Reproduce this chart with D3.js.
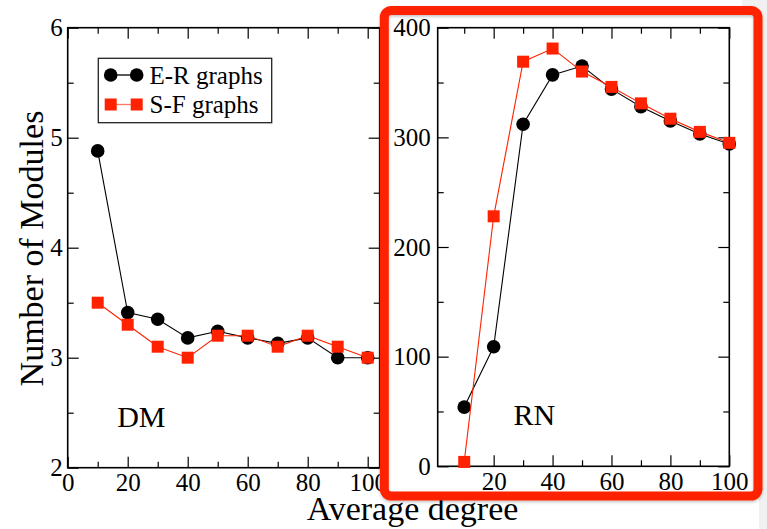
<!DOCTYPE html>
<html>
<head>
<meta charset="utf-8">
<script src="https://cdn.jsdelivr.net/npm/d3@7/dist/d3.min.js"></script>
<style>
  html, body { margin: 0; padding: 0; background: #fff; }
  svg { display: block; }
  svg text { font-family: "Liberation Serif", "Tinos", "Nimbus Roman", "Times New Roman", "DejaVu Serif", serif !important; fill: #000; }
</style>
</head>
<body>
<svg id="chart" width="767" height="529"></svg>
<script>
// Average degree values shared by both panels
const degrees = [10, 20, 30, 40, 50, 60, 70, 80, 90, 100];

// DM panel: number of modules
const dmER = [4.88, 3.41, 3.35, 3.18, 3.24, 3.18, 3.13, 3.18, 3.0, 3.0];
const dmSF = [3.5, 3.3, 3.1, 3.0, 3.2, 3.2, 3.1, 3.2, 3.1, 3.0];

// RN panel: number of modules
const rnER = [54, 109, 312, 357, 365, 344, 328, 315, 303, 294];
const rnSF = [4, 228, 369, 381, 360, 346, 331, 317, 305, 295];

// Tick values
const dmXTicks = [0, 20, 40, 60, 80, 100];
const dmXMinor = [10, 30, 50, 70, 90];
const dmYTicks = [2, 3, 4, 5, 6];
const dmYMinor = [2.5, 3.5, 4.5, 5.5];
const rnXTicks = [20, 40, 60, 80, 100];
const rnXMinor = [10, 30, 50, 70, 90];
const rnYTicks = [0, 100, 200, 300, 400];
const rnYMinor = [50, 150, 250, 350];

const seriesNames = ["E-R graphs", "S-F graphs"];
const panelNames = ["DM", "RN"];

const RED = "#ff2200";
const SERIF = "'Liberation Serif', 'Tinos', 'Nimbus Roman', 'Times New Roman', 'DejaVu Serif', serif";
const svg = d3.select("#chart");

// light strip at the right edge of the page
svg.append("rect").attr("x", 759).attr("y", 0).attr("width", 8).attr("height", 529).attr("fill", "#f1f1f1");
svg.append("rect").attr("x", 742).attr("y", 0).attr("width", 25).attr("height", 8).attr("fill", "#f1f1f1");

function panel(cfg) {
  const g = svg.append("g");
  const x = d3.scaleLinear().domain(cfg.xDomain).range([cfg.left, cfg.right]);
  const y = d3.scaleLinear().domain(cfg.yDomain).range([cfg.bottom, cfg.top]);
  const W = cfg.right - cfg.left, H = cfg.bottom - cfg.top;

  const major = 11, minor = 6;
  // bottom axis with labels
  g.append("g").attr("transform", `translate(0,${cfg.bottom})`)
    .call(d3.axisBottom(x).tickValues(cfg.xTicks).tickSize(-major).tickPadding(6).tickFormat(d3.format("d")));
  g.append("g").attr("transform", `translate(0,${cfg.bottom})`)
    .call(d3.axisBottom(x).tickValues(cfg.xMinor).tickSize(-minor).tickFormat(""));
  // top axis ticks
  g.append("g").attr("transform", `translate(0,${cfg.top})`)
    .call(d3.axisTop(x).tickValues(cfg.xTicks).tickSize(-major).tickFormat(""));
  g.append("g").attr("transform", `translate(0,${cfg.top})`)
    .call(d3.axisTop(x).tickValues(cfg.xMinor).tickSize(-minor).tickFormat(""));
  // left axis with labels
  g.append("g").attr("transform", `translate(${cfg.left},0)`)
    .call(d3.axisLeft(y).tickValues(cfg.yTicks).tickSize(-major).tickPadding(cfg.yPad).tickFormat(d3.format("d")));
  g.append("g").attr("transform", `translate(${cfg.left},0)`)
    .call(d3.axisLeft(y).tickValues(cfg.yMinor).tickSize(-minor).tickFormat(""));
  // right axis ticks
  g.append("g").attr("transform", `translate(${cfg.right},0)`)
    .call(d3.axisRight(y).tickValues(cfg.yTicks).tickSize(-major).tickFormat(""));
  g.append("g").attr("transform", `translate(${cfg.right},0)`)
    .call(d3.axisRight(y).tickValues(cfg.yMinor).tickSize(-minor).tickFormat(""));

  g.selectAll(".domain").remove();
  g.selectAll("g").attr("font-family", SERIF);
  g.selectAll(".tick line").attr("stroke", "#000").attr("stroke-width", 1.2);
  g.selectAll(".tick text").attr("font-size", 25).attr("fill", "#000");

  // frame
  g.append("rect").attr("x", cfg.left).attr("y", cfg.top).attr("width", W).attr("height", H)
    .attr("fill", "none").attr("stroke", "#000").attr("stroke-width", 1.6);

  const line = d3.line().x((d, i) => x(degrees[i])).y(d => y(d));

  // E-R series
  g.append("path").datum(cfg.er).attr("d", line).attr("fill", "none").attr("stroke", "#000").attr("stroke-width", 1.1);
  g.selectAll(".er").data(cfg.er).enter().append("circle")
    .attr("cx", (d, i) => x(degrees[i])).attr("cy", d => y(d)).attr("r", 6.8).attr("fill", "#000");

  // S-F series
  g.append("path").datum(cfg.sf).attr("d", line).attr("fill", "none").attr("stroke", RED).attr("stroke-width", 1.1);
  const s = 12;
  g.selectAll(".sf").data(cfg.sf).enter().append("rect")
    .attr("x", (d, i) => x(degrees[i]) - s / 2).attr("y", d => y(d) - s / 2)
    .attr("width", s).attr("height", s).attr("fill", RED);

  // panel name
  g.append("text").attr("x", x(cfg.nameAt[0])).attr("y", y(cfg.nameAt[1]))
    .attr("font-family", SERIF).attr("font-size", 30).text(cfg.name);

  return { x, y };
}

// DM panel
panel({
  left: 67.7, right: 379.7, top: 27.7, bottom: 467.7,
  xDomain: [0, 104], yDomain: [2, 6],
  xTicks: dmXTicks, xMinor: dmXMinor, yTicks: dmYTicks, yMinor: dmYMinor,
  yPad: 5,
  er: dmER, sf: dmSF, name: panelNames[0], nameAt: [16.5, 2.37]
});

// RN panel
panel({
  left: 437.7, right: 729.3, top: 27.7, bottom: 466.3,
  xDomain: [1, 100], yDomain: [0, 400],
  xTicks: rnXTicks, xMinor: rnXMinor, yTicks: rnYTicks, yMinor: rnYMinor,
  yPad: 7,
  er: rnER, sf: rnSF, name: panelNames[1], nameAt: [26.7, 37.6]
});

// legend
const lg = svg.append("g").attr("font-family", SERIF);
lg.append("rect").attr("x", 98.3).attr("y", 58.3).attr("width", 173.4).attr("height", 64.4)
  .attr("fill", "#fff").attr("stroke", "#222").attr("stroke-width", 1.3);
const rows = [
  { name: seriesNames[0], color: "#000", shape: "circle", cy: 75 },
  { name: seriesNames[1], color: RED, shape: "square", cy: 104.5 }
];
rows.forEach(r => {
  lg.append("line").attr("x1", 110.7).attr("x2", 136.7).attr("y1", r.cy).attr("y2", r.cy)
    .attr("stroke", r.shape === "square" ? "#ff7766" : r.color).attr("stroke-width", 1.3);
  [110.7, 136.7].forEach(cx => {
    if (r.shape === "circle") {
      lg.append("circle").attr("cx", cx).attr("cy", r.cy).attr("r", 6.8).attr("fill", r.color);
    } else {
      lg.append("rect").attr("x", cx - 6).attr("y", r.cy - 6).attr("width", 12).attr("height", 12).attr("fill", r.color);
    }
  });
  lg.append("text").attr("x", 149.5).attr("y", r.cy + 8.5).attr("font-size", 25).text(r.name);
});

// axis titles
svg.append("text").attr("transform", "translate(43,248.5) rotate(-90)")
  .attr("font-family", SERIF).attr("text-anchor", "middle").attr("font-size", 34).text("Number of Modules");
svg.append("text").attr("x", 412.5).attr("y", 520)
  .attr("font-family", SERIF).attr("text-anchor", "middle").attr("font-size", 34).text("Average degree");

// highlight frame around the RN panel
const defs = svg.append("defs");
const f = defs.append("filter").attr("id", "shadow").attr("x", "-5%").attr("y", "-5%").attr("width", "110%").attr("height", "110%");
f.append("feDropShadow").attr("dx", 0).attr("dy", 1.5).attr("stdDeviation", 1.5)
  .attr("flood-color", "#000").attr("flood-opacity", 0.25);
svg.append("rect").attr("x", 384.3).attr("y", 10.5).attr("width", 373.7).attr("height", 485.5)
  .attr("rx", 7).attr("ry", 7)
  .attr("fill", "none").attr("stroke", RED).attr("stroke-width", 9)
  .attr("filter", "url(#shadow)");
</script>
</body>
</html>
